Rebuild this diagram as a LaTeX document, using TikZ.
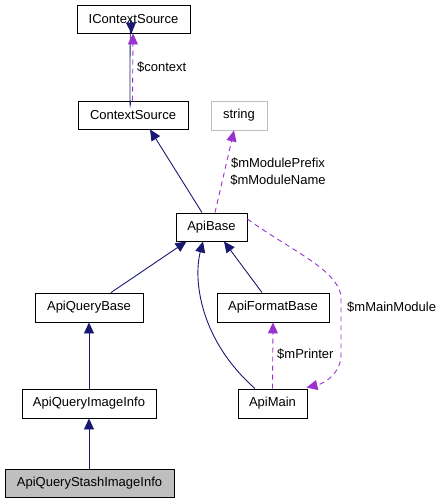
\documentclass[tikz,border=0pt]{standalone}
\usepackage{fontspec}
\setmainfont{Liberation Sans}
\usetikzlibrary{arrows.meta}
\definecolor{inhblue}{HTML}{191970}
\definecolor{usepurple}{HTML}{9A32CD}
\definecolor{boxgray}{HTML}{BFBFBF}
\begin{document}
\begin{tikzpicture}[x=1pt,y=-1pt,
  cls/.style={draw=black, line width=0.9pt, inner sep=0pt, fill=white, font=\fontsize{13}{15}\selectfont},
  lbl/.style={inner sep=0pt, font=\fontsize{13}{17}\selectfont},
  inh/.style={draw=inhblue, line width=0.9pt, -{Triangle[length=11pt,width=10pt]}},
  use/.style={draw=usepurple, line width=0.9pt, dash pattern=on 5pt off 4pt, -{Triangle[length=11pt,width=10pt]}}]
\useasboundingbox (0,0) rectangle (441,504);
% nodes
\node[cls, minimum width=113pt, minimum height=28pt] (ics) at (133.5,19) {IContextSource};
\node[cls, minimum width=110pt, minimum height=28pt] (cs) at (133,115) {ContextSource};
\node[cls, draw=boxgray, minimum width=56pt, minimum height=29pt] (str) at (239,115.5) {string};
\node[cls, minimum width=71pt, minimum height=28pt] (ab) at (211.5,227) {ApiBase};
\node[cls, minimum width=108pt, minimum height=29pt] (aqb) at (89,307.5) {ApiQueryBase};
\node[cls, minimum width=112pt, minimum height=29pt] (afb) at (273,307.5) {ApiFormatBase};
\node[cls, minimum width=134pt, minimum height=29pt] (aqii) at (89,403.5) {ApiQueryImageInfo};
\node[cls, minimum width=69pt, minimum height=29pt] (am) at (272.5,403.5) {ApiMain};
\node[cls, fill=boxgray, minimum width=169pt, minimum height=28pt] (aqsii) at (89.5,483) {ApiQueryStashImageInfo};
% edges
\draw[inh] ([xshift=-2.5pt]cs.north) .. controls ([xshift=-3.5pt,yshift=-30pt]cs.north) and ([xshift=-3.5pt,yshift=30pt]ics.south) .. ([xshift=-2pt]ics.south);
\draw[use] ([xshift=-0.5pt]cs.north) -- ([xshift=-0.5pt]ics.south);
\node[lbl, anchor=west] (lctx) at (137,67) {\$context};

\draw[inh] ([xshift=-9.5pt]ab.north) -- ([xshift=17pt]cs.south);
\draw[use] ([xshift=3.5pt]ab.north) -- ([xshift=-5pt]str.south);
\node[lbl, align=center] (lmod) at (278,171.5) {\$mModulePrefix\\\$mModuleName};

\draw[inh] ([xshift=22pt]aqb.north) -- ([xshift=-25pt]ab.south);
\draw[inh] ([xshift=-17.5pt]am.north) .. controls (200,340) and (193,280) .. ([xshift=-8.5pt]ab.south);
\draw[inh] ([xshift=-11pt]afb.north) -- ([xshift=12.5pt]ab.south);
\draw[use] ([yshift=8pt]ab.east) .. controls (290,250) and (335,268) .. (341,295) -- (341,355) .. controls (341,372) and (326,383) .. ([xshift=-1pt,yshift=1pt]am.north east);
\node[lbl, anchor=west] (lmain) at (347,307) {\$mMainModule};
\draw[use] (am.north) -- (afb.south);
\node[lbl, anchor=west] (lprn) at (277,354) {\$mPrinter};

\draw[inh] (aqii.north) -- (aqb.south);
\draw[inh] ([xshift=-0.5pt]aqsii.north) -- (aqii.south);
\end{tikzpicture}
\end{document}
